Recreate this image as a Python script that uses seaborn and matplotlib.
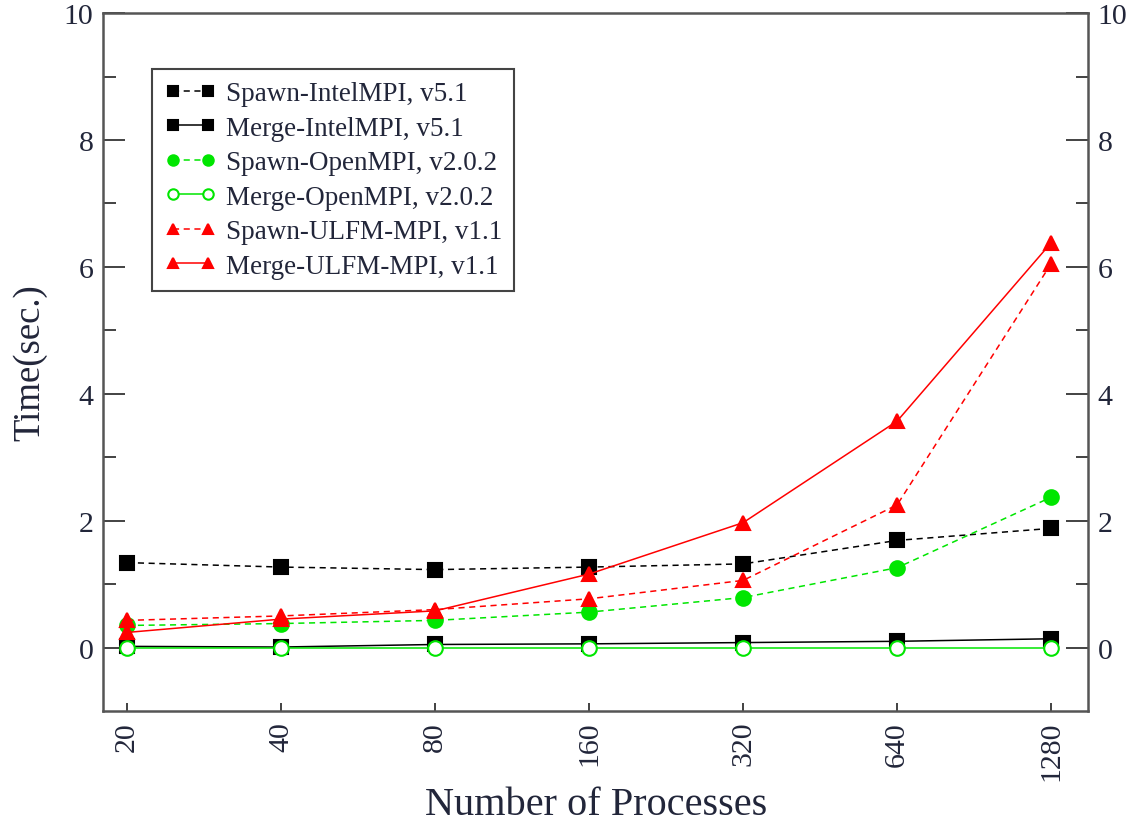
import numpy as np
import pandas as pd
import matplotlib
matplotlib.use("Agg")
import matplotlib.pyplot as plt
import seaborn as sns

# Process counts on the x axis
processes = [20, 40, 80, 160, 320, 640, 1280]

# Measured times in seconds
spawn_intel = [1.34, 1.27, 1.23, 1.27, 1.32, 1.69, 1.88]
merge_intel = [0.02, 0.01, 0.05, 0.06, 0.08, 0.10, 0.14]
spawn_openmpi = [0.35, 0.38, 0.43, 0.56, 0.79, 1.26, 2.37]
merge_openmpi = [0.0, 0.0, 0.0, 0.0, 0.0, 0.0, 0.0]
spawn_ulfm = [0.43, 0.50, 0.60, 0.77, 1.06, 2.25, 6.05]
merge_ulfm = [0.24, 0.45, 0.58, 1.16, 1.97, 3.57, 6.38]

labels = [
    "Spawn-IntelMPI, v5.1",
    "Merge-IntelMPI, v5.1",
    "Spawn-OpenMPI, v2.0.2",
    "Merge-OpenMPI, v2.0.2",
    "Spawn-ULFM-MPI, v1.1",
    "Merge-ULFM-MPI, v1.1",
]
y_ticks = [0, 2, 4, 6, 8, 10]

sns.set_theme(style="white")
plt.rcParams["font.family"] = ["Liberation Serif", "DejaVu Serif"]

text_color = "#22263a"

fig = plt.figure(figsize=(11.34, 8.29), dpi=100)
ax = fig.add_axes([0.091, 0.141, 0.8685, 0.842])

series = [spawn_intel, merge_intel, spawn_openmpi, merge_openmpi, spawn_ulfm, merge_ulfm]
styles = [
    dict(color="black", ls=(0, (4, 3)), marker="s", mfc="black", mec="black", ms=10),
    dict(color="black", ls="-", marker="s", mfc="black", mec="black", ms=10),
    dict(color="#00e600", ls=(0, (4, 3)), marker="o", mfc="#00e600", mec="#00e600", ms=10.5),
    dict(color="#00e600", ls="-", marker="o", mfc="white", mec="#00e600", ms=10.5),
    dict(color="#ff0000", ls=(0, (4, 3)), marker="^", mfc="#ff0000", mec="#ff0000", ms=10.5),
    dict(color="#ff0000", ls="-", marker="^", mfc="#ff0000", mec="#ff0000", ms=10.5),
]

for values, label, st in zip(series, labels, styles):
    df = pd.DataFrame({"procs": processes, "time": values})
    sns.lineplot(
        data=df, x="procs", y="time", ax=ax, label=label,
        color=st["color"], linestyle=st["ls"], linewidth=1.1,
        marker=st["marker"], markersize=st["ms"],
        markerfacecolor=st["mfc"], markeredgecolor=st["mec"],
        markeredgewidth=1.5,
    )

ax.set_xscale("log", base=2)
lo = np.log2(processes[0]) - 0.156
hi = np.log2(processes[-1]) + 0.24
ax.set_xlim(2 ** lo, 2 ** hi)
ax.set_xticks(processes)
ax.set_xticklabels([str(p) for p in processes], rotation=90)
ax.xaxis.set_minor_locator(matplotlib.ticker.NullLocator())

ax.set_ylim(-1, 10)
ax.set_yticks(y_ticks)
ax.set_yticks([1, 3, 5, 7, 9], minor=True)

ax.tick_params(axis="both", which="major", direction="in", length=16, width=1.2,
               color="#222222", labelsize=21.5, labelcolor=text_color, pad=7)
ax.tick_params(axis="y", which="minor", direction="in", length=9, width=1.2,
               color="#222222", left=True, right=True)
ax.tick_params(axis="y", which="both", left=True, right=True, labelleft=True, labelright=True)
ax.tick_params(axis="x", which="major", bottom=True, top=False, length=6)

for sp in ax.spines.values():
    sp.set_color("#555555")
    sp.set_linewidth(1.8)

ax.set_xlabel("Number of Processes", fontsize=29, color=text_color, labelpad=4)
ax.set_ylabel("Time(sec.)", fontsize=26.5, color=text_color, labelpad=12)

leg = ax.legend(
    loc="upper left", bbox_to_anchor=(0.05, 0.92), fontsize=19.5,
    frameon=True, fancybox=False, edgecolor="#444444", framealpha=1,
    numpoints=2, handlelength=1.9, handletextpad=0.35, borderpad=0.45,
    labelspacing=0.35, borderaxespad=0,
)
leg.get_frame().set_linewidth(1.5)
for t in leg.get_texts():
    t.set_color(text_color)
for h in leg.legend_handles:
    h.set_markersize(7.5)

fig.savefig("out.png", dpi=100)
